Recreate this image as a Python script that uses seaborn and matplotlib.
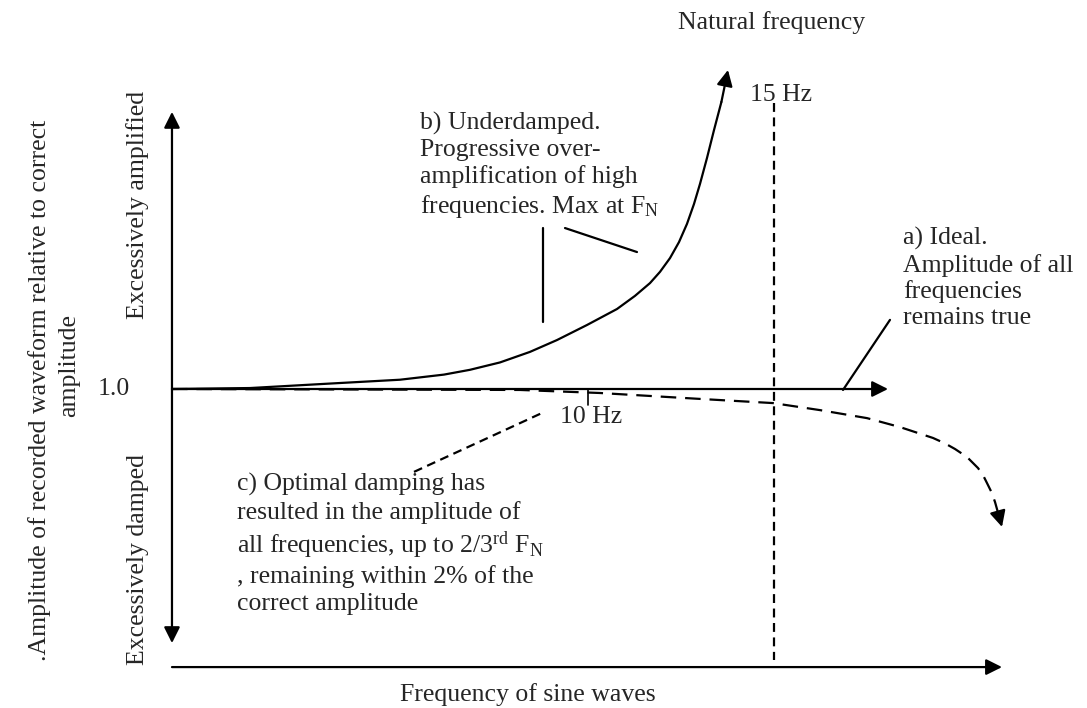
import matplotlib
matplotlib.use("Agg")
import matplotlib.pyplot as plt
import seaborn as sns

# schematic values, x = frequency (Hz), y = amplitude relative to the true one
axis_f = -1.183
axis_top, axis_bottom = 1.866, 0.206
ideal_f = [-1.183, 18.065]
ideal_a = [1.0, 1.0]
base_a = 0.131
base_end_f = 21.129
natural_f = 15.0
natural_a = [1.894, 0.153]
tick_f = 10.0
tick_a = [1.0, 0.95]

# b) underdamped curve
under_f = [-1.183, 0.914, 3.065, 4.946, 6.129, 6.828, 7.634, 8.441, 9.167,
           9.973, 10.780, 11.263, 11.667, 11.935, 12.204, 12.446, 12.661,
           12.849, 13.011, 13.199, 13.387, 13.586, 13.763]
under_a = [1.000, 1.003, 1.017, 1.029, 1.045, 1.060, 1.083, 1.116, 1.153,
           1.200, 1.250, 1.291, 1.331, 1.366, 1.409, 1.459, 1.516,
           1.578, 1.641, 1.722, 1.809, 1.897, 1.997]

# c) optimal damping curve
damp_f = [-1.183, 8.172, 10.323, 13.011, 14.973, 16.237, 17.5, 18.387, 19.274,
          19.597, 19.866, 20.188, 20.484, 20.618, 20.726, 20.849, 20.941, 21.129]
damp_a = [1.0, 0.997, 0.9875, 0.969, 0.956, 0.934, 0.909, 0.881, 0.847,
          0.830, 0.8125, 0.7875, 0.753, 0.731, 0.706, 0.677, 0.647, 0.569]

# leader lines for the notes
lead_b1_f, lead_b1_a = [8.790, 8.790], [1.503, 1.209]
lead_b2_f, lead_b2_a = [9.382, 11.317], [1.503, 1.428]
lead_a_f, lead_a_a = [16.855, 18.118], [0.997, 1.216]
lead_c_f, lead_c_a = [5.323, 8.763], [0.741, 0.925]

sns.set_theme(style="white")
plt.rcParams['font.family'] = ['Liberation Serif', 'DejaVu Serif']
plt.rcParams['mathtext.fontset'] = 'custom'
plt.rcParams['mathtext.rm'] = 'Liberation Serif'
plt.rcParams['mathtext.it'] = 'Liberation Serif:italic'

fig = plt.figure(figsize=(10.87, 7.08), dpi=100)
ax = fig.add_axes([0, 0, 1, 1])
ax.set_xlim(-5.806, 23.414)
ax.set_ylim(0.003125, 2.215625)
ax.axis('off')

fs = 18.5
lw = 1.6
head = dict(color='black', lw=lw, mutation_scale=24, shrinkA=0, shrinkB=0)

# axes of the schematic
ax.annotate('', xy=(axis_f, axis_top), xytext=(axis_f, axis_bottom),
            arrowprops=dict(arrowstyle='<|-|>', **head))
ax.annotate('', xy=(base_end_f, base_a), xytext=(axis_f, base_a),
            arrowprops=dict(arrowstyle='-|>', **head))

# a) ideal
ax.annotate('', xy=(ideal_f[1], ideal_a[1]), xytext=(ideal_f[0], ideal_a[0]),
            arrowprops=dict(arrowstyle='-|>', **head))

# b) underdamped
sns.lineplot(x=under_f[:-1], y=under_a[:-1], sort=False, estimator=None,
             color='black', lw=lw, ax=ax)
ax.lines[-1].set_solid_joinstyle('round')
ax.annotate('', xy=(under_f[-1], under_a[-1]), xytext=(under_f[-2], under_a[-2]),
            arrowprops=dict(arrowstyle='-|>', **head))

# c) optimal damping
sns.lineplot(x=damp_f[:-1], y=damp_a[:-1], sort=False, estimator=None,
             color='black', lw=lw, ax=ax)
ax.lines[-1].set_dashes((7, 4))
ax.annotate('', xy=(damp_f[-1], damp_a[-1]), xytext=(damp_f[-2], damp_a[-2]),
            arrowprops=dict(arrowstyle='-|>', **head))

# natural frequency marker and 10 Hz tick
ax.plot([natural_f, natural_f], natural_a, color='black', lw=lw, dashes=(4, 2.5))
ax.plot([tick_f, tick_f], tick_a, color='black', lw=1.2)

# leader lines
ax.plot(lead_b1_f, lead_b1_a, color='black', lw=lw)
ax.plot(lead_b2_f, lead_b2_a, color='black', lw=lw)
ax.plot(lead_a_f, lead_a_a, color='black', lw=lw)
ax.plot(lead_c_f, lead_c_a, color='black', lw=lw, dashes=(4, 2.5))

# texts
ax.text(12.419, 2.144, 'Natural frequency', fontsize=fs, ha='left', va='center')
ax.text(14.355, 1.919, '15 Hz', fontsize=fs, ha='left', va='center')
ax.text(9.247, 0.9125, '10 Hz', fontsize=fs, ha='left', va='center')
ax.text(5.484, 1.697,
        'b) Underdamped.\nProgressive over-\namplification of high\n'
        r'frequencies. Max at F$_{\mathrm{N}}$',
        fontsize=fs, ha='left', va='center', linespacing=1.25)
ax.text(18.468, 1.347,
        'a) Ideal.\nAmplitude of all\nfrequencies\nremains true',
        fontsize=fs, ha='left', va='center', linespacing=1.2)
ax.text(0.565, 0.516,
        'c) Optimal damping has\nresulted in the amplitude of\n'
        r'all frequencies, up to 2/3$^{\mathrm{rd}}$ F$_{\mathrm{N}}$'
        '\n, remaining within 2% of the\ncorrect amplitude',
        fontsize=fs, ha='left', va='center', linespacing=1.25)
ax.text(-2.312, 1.0, '1.0', fontsize=fs, ha='right', va='center')
ax.text(-4.731, 0.997, '.Amplitude of recorded waveform relative to correct',
        fontsize=fs, rotation=90, ha='center', va='center')
ax.text(-3.952, 1.075, 'amplitude', fontsize=fs, rotation=90, ha='center', va='center')
ax.text(-2.097, 1.575, 'Excessively amplified', fontsize=fs, rotation=90,
        ha='center', va='center')
ax.text(-2.097, 0.466, 'Excessively damped', fontsize=fs, rotation=90,
        ha='center', va='center')
ax.text(4.946, 0.044, 'Frequency of sine waves', fontsize=fs, ha='left', va='center')

fig.savefig('out.png', dpi=100)
